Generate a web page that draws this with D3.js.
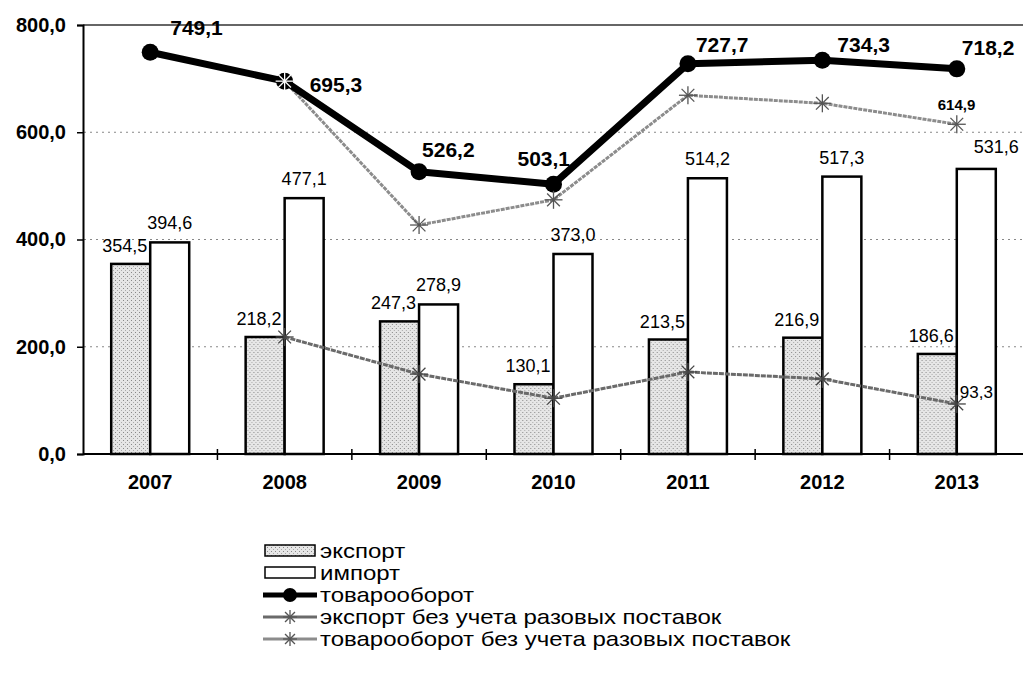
<!DOCTYPE html>
<html>
<head>
<meta charset="utf-8">
<script src="https://cdn.jsdelivr.net/npm/d3@7"></script>
<style>
  body { margin: 0; background: #fff; }
  svg { display: block; font-family: Arial, "Liberation Sans", sans-serif; }
</style>
</head>
<body>
<svg id="chart" width="1023" height="679"></svg>
<script>
// data
const years = ["2007", "2008", "2009", "2010", "2011", "2012", "2013"];
const exportVals = [354.5, 218.2, 247.3, 130.1, 213.5, 216.9, 186.6];
const importVals = [394.6, 477.1, 278.9, 373.0, 514.2, 517.3, 531.6];
const turnover = [749.1, 695.3, 526.2, 503.1, 727.7, 734.3, 718.2];
const exportNoOneOff = [null, 218.2, 149, 104, 153, 140, 93.3];
const turnoverNoOneOff = [null, 695.3, 427, 474, 669, 654, 614.9];
const yTicks = [0, 200, 400, 600, 800];

// label placement for the turnover line (dx, dy from the marker)
const turnoverLabelOffsets = [[20, -17], [25, 11], [3, -15], [-36, -18], [8, -12], [15, -8], [5, -14]];

const legendItems = [
  { key: "export", label: "экспорт" },
  { key: "import", label: "импорт" },
  { key: "turnover", label: "товарооборот" },
  { key: "expNo", label: "экспорт без учета разовых поставок" },
  { key: "turnNo", label: "товарооборот без учета разовых поставок" }
];

const fmt = v => d3.format(".1f")(v).replace(".", ",");

const svg = d3.select("#chart");

// stipple pattern for export bars
const defs = svg.append("defs");
const pat = defs.append("pattern")
  .attr("id", "stipple")
  .attr("width", 4).attr("height", 4)
  .attr("patternUnits", "userSpaceOnUse");
pat.append("rect").attr("width", 4).attr("height", 4).attr("fill", "#e6e6e6");
pat.append("rect").attr("x", 0).attr("y", 0).attr("width", 1).attr("height", 1).attr("fill", "#888");
pat.append("rect").attr("x", 2).attr("y", 2).attr("width", 1).attr("height", 1).attr("fill", "#aaa");

const x = d3.scaleBand().domain(years).range([83, 1024]);
const x1 = d3.scaleBand().domain(["export", "import"])
  .range([x.bandwidth() / 2 - 39, x.bandwidth() / 2 + 39]);
const y = d3.scaleLinear().domain([0, 800]).range([454, 25]);

// gridlines
svg.append("g")
  .selectAll("line")
  .data(yTicks.filter(t => t > 0 && t < 800))
  .join("line")
  .attr("x1", 84).attr("x2", 1023)
  .attr("y1", d => y(d)).attr("y2", d => y(d))
  .attr("stroke", "#888")
  .attr("stroke-width", 1)
  .attr("stroke-dasharray", "2,4");

// top border
svg.append("line")
  .attr("x1", 83).attr("x2", 1023)
  .attr("y1", y(800)).attr("y2", y(800))
  .attr("stroke", "#333").attr("stroke-width", 1.5);

// bars
const groups = svg.append("g")
  .selectAll("g")
  .data(years)
  .join("g")
  .attr("transform", d => `translate(${x(d)},0)`);

groups.append("rect")
  .attr("x", x1("export"))
  .attr("width", x1.bandwidth())
  .attr("y", (d, i) => y(exportVals[i]))
  .attr("height", (d, i) => y(0) - y(exportVals[i]))
  .attr("fill", "url(#stipple)")
  .attr("stroke", "#000").attr("stroke-width", 2.5);

groups.append("rect")
  .attr("x", x1("import"))
  .attr("width", x1.bandwidth())
  .attr("y", (d, i) => y(importVals[i]))
  .attr("height", (d, i) => y(0) - y(importVals[i]))
  .attr("fill", "#fff")
  .attr("stroke", "#000").attr("stroke-width", 2.5);

// bar labels
groups.append("text")
  .attr("x", x1("export") + x1.bandwidth() - 3)
  .attr("y", (d, i) => y(exportVals[i]) - 12)
  .attr("text-anchor", "end")
  .attr("font-size", 18)
  .text((d, i) => fmt(exportVals[i]));

groups.append("text")
  .attr("x", (d, i) => x1("import") + x1.bandwidth() / 2 + (i === 6 ? 20 : 0))
  .attr("y", (d, i) => y(importVals[i]) - (i === 6 ? 16 : 13))
  .attr("text-anchor", "middle")
  .attr("font-size", 18)
  .text((d, i) => fmt(importVals[i]));

// axes
const yAxis = svg.append("g")
  .attr("transform", "translate(83,0)")
  .call(d3.axisLeft(y).tickValues(yTicks).tickSize(6).tickFormat(fmt));
yAxis.select(".domain").attr("stroke", "#000").attr("stroke-width", 2);
yAxis.selectAll(".tick line").attr("stroke", "#000").attr("stroke-width", 1.5);
yAxis.selectAll(".tick text")
  .attr("font-size", 20).attr("font-weight", "bold")
  .attr("font-family", "Arial, 'Liberation Sans', sans-serif")
  .attr("fill", "#000")
  .attr("x", -17);

svg.append("line")
  .attr("x1", 83).attr("x2", 1023)
  .attr("y1", y(0)).attr("y2", y(0))
  .attr("stroke", "#000").attr("stroke-width", 2);

svg.append("g")
  .selectAll("line")
  .data(years.slice(1))
  .join("line")
  .attr("x1", d => x(d)).attr("x2", d => x(d))
  .attr("y1", y(0) - 5).attr("y2", y(0) + 6)
  .attr("stroke", "#000").attr("stroke-width", 1.5);

svg.append("g")
  .selectAll("text")
  .data(years)
  .join("text")
  .attr("x", d => x(d) + x.bandwidth() / 2)
  .attr("y", 489)
  .attr("text-anchor", "middle")
  .attr("font-size", 20)
  .attr("font-weight", "bold")
  .text(d => d);

// lines
const cx = i => x(years[i]) + x.bandwidth() / 2;
const lineGen = d3.line()
  .defined(d => d != null)
  .x((d, i) => cx(i))
  .y(d => y(d));

function star(g, px, py, r, color) {
  const s = g.append("g").attr("transform", `translate(${px},${py})`);
  for (let k = 0; k < 4; k++) {
    const a = k * Math.PI / 4;
    s.append("line")
      .attr("x1", -r * Math.cos(a)).attr("y1", -r * Math.sin(a))
      .attr("x2", r * Math.cos(a)).attr("y2", r * Math.sin(a))
      .attr("stroke", color).attr("stroke-width", 1.3);
  }
}

// export without one-off deliveries
svg.append("path")
  .datum(exportNoOneOff)
  .attr("d", lineGen)
  .attr("fill", "none")
  .attr("stroke", "#6a6a6a")
  .attr("stroke-width", 3)
  .attr("stroke-dasharray", "5,1");

// turnover without one-off deliveries
svg.append("path")
  .datum(turnoverNoOneOff)
  .attr("d", lineGen)
  .attr("fill", "none")
  .attr("stroke", "#8c8c8c")
  .attr("stroke-width", 3)
  .attr("stroke-dasharray", "4,1");

// turnover
svg.append("path")
  .datum(turnover)
  .attr("d", lineGen)
  .attr("fill", "none")
  .attr("stroke", "#000")
  .attr("stroke-width", 7)
  .attr("stroke-linejoin", "round");

svg.append("g")
  .selectAll("circle")
  .data(turnover)
  .join("circle")
  .attr("cx", (d, i) => cx(i))
  .attr("cy", d => y(d))
  .attr("r", 8.5)
  .attr("fill", "#000");

const starG = svg.append("g");
exportNoOneOff.forEach((v, i) => { if (v != null) star(starG, cx(i), y(v), 9, "#444"); });
turnoverNoOneOff.forEach((v, i) => { if (v != null) star(starG, cx(i), y(v), 9, i === 1 ? "#fff" : "#555"); });

// turnover labels
svg.append("g")
  .selectAll("text")
  .data(turnover)
  .join("text")
  .attr("x", (d, i) => cx(i) + turnoverLabelOffsets[i][0])
  .attr("y", (d, i) => y(d) + turnoverLabelOffsets[i][1])
  .attr("font-size", 21)
  .attr("font-weight", "bold")
  .text(d => fmt(d));

// labels for the last points of the "without one-off" lines
const last = years.length - 1;
svg.append("text")
  .attr("x", cx(last) - 19).attr("y", y(turnoverNoOneOff[last]) - 14)
  .attr("font-size", 15).attr("font-weight", "bold")
  .text(fmt(turnoverNoOneOff[last]));
svg.append("text")
  .attr("x", cx(last) + 3).attr("y", y(exportNoOneOff[last]) - 6)
  .attr("font-size", 17)
  .text(fmt(exportNoOneOff[last]));

// legend
const legend = svg.append("g").attr("transform", "translate(263,551)");
const rows = legend.selectAll("g")
  .data(legendItems)
  .join("g")
  .attr("transform", (d, i) => `translate(0,${i * 22})`);

rows.each(function (d) {
  const g = d3.select(this);
  if (d.key === "export" || d.key === "import") {
    g.append("rect")
      .attr("x", 2).attr("y", -6).attr("width", 50).attr("height", 11)
      .attr("fill", d.key === "export" ? "url(#stipple)" : "#fff")
      .attr("stroke", "#000").attr("stroke-width", 1.5);
  } else if (d.key === "turnover") {
    g.append("line").attr("x1", 0).attr("x2", 54).attr("y1", 0).attr("y2", 0)
      .attr("stroke", "#000").attr("stroke-width", 5);
    g.append("circle").attr("cx", 27).attr("cy", 0).attr("r", 7).attr("fill", "#000");
  } else {
    g.append("line").attr("x1", 0).attr("x2", 54).attr("y1", 0).attr("y2", 0)
      .attr("stroke", d.key === "expNo" ? "#6a6a6a" : "#8c8c8c").attr("stroke-width", 3);
    star(g, 27, 0, 7, "#555");
  }
  g.append("text")
    .attr("transform", "translate(57,7) scale(1.2,1)")
    .attr("font-size", 20)
    .text(d.label);
});
</script>
</body>
</html>
